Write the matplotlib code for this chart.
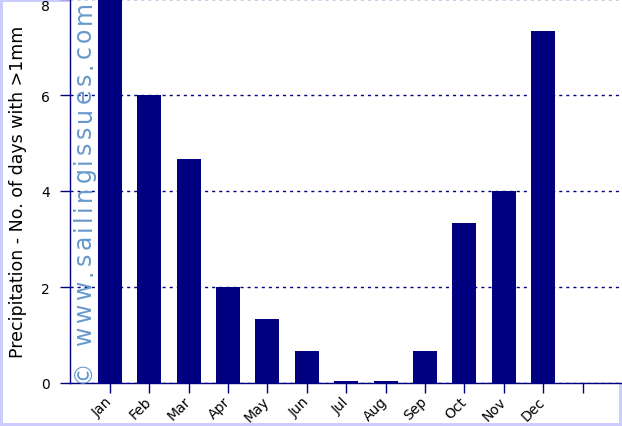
import matplotlib
matplotlib.use("Agg")
import matplotlib.pyplot as plt
from matplotlib.font_manager import FontProperties

months = ["Jan", "Feb", "Mar", "Apr", "May", "Jun",
          "Jul", "Aug", "Sep", "Oct", "Nov", "Dec"]
rain_days = [8.33, 6.0, 4.67, 2.0, 1.33, 0.67,
             0.05, 0.05, 0.67, 3.33, 4.0, 7.33]
tick_labels = months + [""]
y_ticks = [0, 2, 4, 6, 8]
watermark = "© www.sailingissues.com"

navy = "#000080"
px = 0.72  # one pixel in points at dpi 100


def main():
    fig = plt.figure(figsize=(6.22, 4.27), dpi=100)
    fig.patch.set_edgecolor("#ccccff")
    fig.patch.set_linewidth(3)
    ax = fig.add_axes([70 / 622, 43 / 427, 552 / 622, 384 / 427])

    x = list(range(len(months)))
    ax.bar(x, rain_days, width=0.61, color=navy, zorder=3)

    ax.set_xlim(-1.01, 13.0)
    ax.set_ylim(0, 8)
    ax.set_xticks(range(len(tick_labels)))
    ax.set_xticklabels(tick_labels, rotation=45, ha="right", va="center",
                       rotation_mode="anchor", fontsize=10)
    ax.set_yticks(y_ticks)
    ax.set_yticklabels([str(v) for v in y_ticks], fontsize=10)
    ax.get_yticklabels()[-1].set_va("top")
    ax.tick_params(axis="both", direction="out", length=10 * px, width=1,
                   color=navy, labelcolor="black")
    ax.tick_params(axis="x", pad=6 * px)
    ax.tick_params(axis="y", pad=10 * px)

    for s in ["top", "right"]:
        ax.spines[s].set_visible(False)
    for s in ["left", "bottom"]:
        ax.spines[s].set_color(navy)
        ax.spines[s].set_linewidth(1)

    ax.yaxis.grid(True, color=navy, linestyle=(0, (2.2, 2.9)), linewidth=1, zorder=1)
    ax.set_axisbelow(True)

    ax.set_ylabel("Precipitation - No. of days with >1mm", fontsize=12.5, labelpad=10)

    # watermark, letter spaced: place each character along the y direction
    prop = FontProperties(family="DejaVu Sans", size=17)
    renderer = fig.canvas.get_renderer()
    widths = [renderer.get_text_width_height_descent(ch, prop, ismath=False)[0]
              for ch in watermark]
    start, end = 383, 1
    tracking = ((start - end) - sum(widths)) / (len(watermark) - 1)
    pos = start
    for ch, w in zip(watermark, widths):
        fig.text(84 / 622, 1 - pos / 427, ch, rotation=90, color="#6699cc",
                 fontproperties=prop, ha="center", va="bottom", zorder=5)
        pos -= w + tracking

    fig.savefig("out.png", dpi=100)


if __name__ == '__main__':
    main()
